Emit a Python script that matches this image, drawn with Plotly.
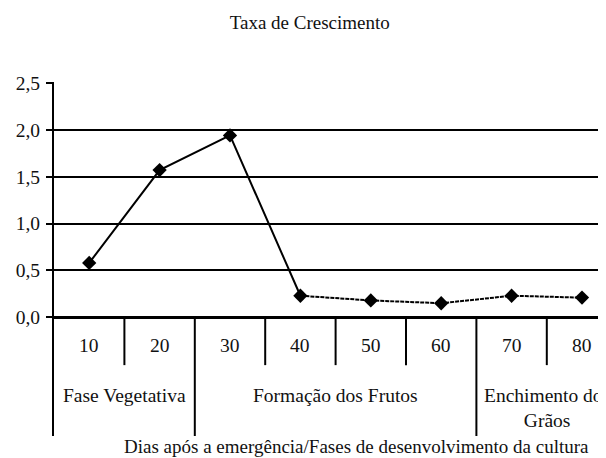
import plotly.graph_objects as go

# ---- data ----
days = [10, 20, 30, 40, 50, 60, 70, 80]
day_labels = ["10", "20", "30", "40", "50", "60", "70", "80"]
rate = [0.58, 1.57, 1.94, 0.23, 0.18, 0.15, 0.23, 0.21]
y_ticks = [0.0, 0.5, 1.0, 1.5, 2.0, 2.5]
phase_names = ["Fase Vegetativa", "Formação dos Frutos", "Enchimento dos<br>Grãos"]
phase_start = [5, 25, 65]
phase_end = [25, 65, 85]
title_text = "Taxa de Crescimento"
x_title = "Dias após a emergência/Fases de desenvolvimento da cultura"

FONT = "Liberation Serif, Times New Roman, serif"
FS = 19.5
step = days[1] - days[0]

fig = go.Figure()
# solid part (up to day 40), dashed afterwards
split = 4
fig.add_trace(go.Scatter(x=days[:split], y=rate[:split], mode="lines",
                         line=dict(color="black", width=2), hoverinfo="skip", showlegend=False))
fig.add_trace(go.Scatter(x=days[split - 1:], y=rate[split - 1:], mode="lines",
                         line=dict(color="black", width=2, dash="4px,1px"), hoverinfo="skip", showlegend=False))
fig.add_trace(go.Scatter(x=days, y=rate, mode="markers",
                         marker=dict(symbol="diamond", size=11, color="black"),
                         showlegend=False))

y_bottom = -1.266
# category separators below the axis
for d in days[:-1]:
    b = d + step / 2
    if b in phase_start:
        continue
    fig.add_shape(type="line", xref="x", yref="y", x0=b, x1=b, y0=0, y1=-0.51,
                  line=dict(color="black", width=2))
for s in phase_start[1:]:
    fig.add_shape(type="line", xref="x", yref="y", x0=s, x1=s, y0=0, y1=y_bottom,
                  line=dict(color="black", width=2))

# day labels
for d, lab in zip(days, day_labels):
    fig.add_annotation(x=d, y=-0.30, xref="x", yref="y", text=lab, showarrow=False,
                       font=dict(family=FONT, size=FS, color="#111"))
# phase labels
for name, s, e in zip(phase_names, phase_start, phase_end):
    fig.add_annotation(x=(s + e) / 2, y=-0.70, xref="x", yref="y", yanchor="top",
                       text=name, showarrow=False,
                       font=dict(family=FONT, size=FS, color="#111"))

fig.add_annotation(x=0.541, y=-0.031, xref="paper", yref="paper", yanchor="middle",
                   text=x_title, showarrow=False,
                   font=dict(family=FONT, size=19, color="#111"))

fig.update_layout(
    width=606, height=458,
    margin=dict(l=46, r=0, t=74, b=30),
    paper_bgcolor="white", plot_bgcolor="white",
    separators=",.",
    title=dict(text=title_text, x=0.498, xanchor="center", y=0.969, yanchor="middle",
               font=dict(family=FONT, size=19, color="#111")),
    xaxis=dict(range=[5, 5 + step * 560 / 70.4], showgrid=False, zeroline=False,
               showline=False, showticklabels=False, ticks=""),
    yaxis=dict(range=[y_bottom, 2.51], tickvals=y_ticks, tickformat=".1f",
               showgrid=True, gridcolor="black", gridwidth=2,
               zeroline=True, zerolinecolor="black", zerolinewidth=3,
               showline=True, linecolor="black", linewidth=2,
               ticks="outside", ticklen=6, tickwidth=2, tickcolor="black",
               ticklabelstandoff=2,
               tickfont=dict(family=FONT, size=FS, color="#111")),
)

fig.write_html("out.html")
